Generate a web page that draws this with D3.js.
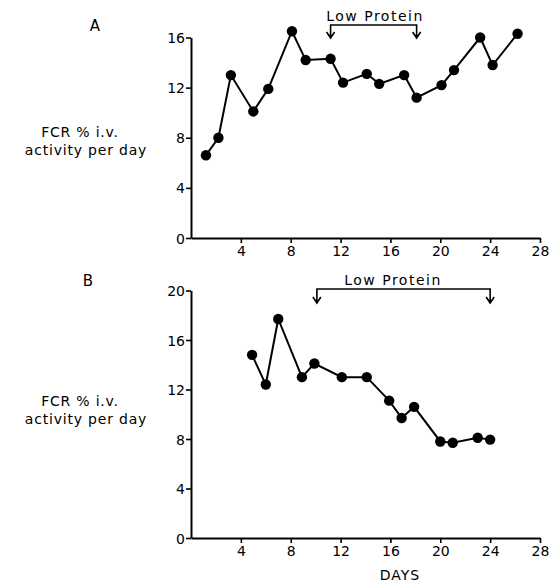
<!DOCTYPE html>
<html>
<head>
<meta charset="utf-8">
<script src="https://cdn.jsdelivr.net/npm/d3@7"></script>
<style>
  body { margin: 0; background: #fff; }
  text { font-family: "DejaVu Sans", sans-serif; fill: #000; }
</style>
</head>
<body>
<div id="chart"></div>
<script>
// panel A : days and FCR values
const daysA = [1.2, 2.2, 3.2, 5.0, 6.2, 8.1, 9.2, 11.2, 12.2, 14.1, 15.1, 17.1, 18.1, 20.1, 21.1, 23.2, 24.2, 26.2];
const fcrA  = [6.6, 8.0, 13.0, 10.1, 11.9, 16.5, 14.2, 14.3, 12.4, 13.1, 12.3, 13.0, 11.2, 12.2, 13.4, 16.0, 13.8, 16.3];
// panel B
const daysB = [4.9, 6.0, 7.0, 8.9, 9.9, 12.1, 14.1, 15.9, 16.9, 17.9, 20.0, 21.0, 23.0, 24.0];
const fcrB  = [14.8, 12.4, 17.7, 13.0, 14.1, 13.0, 13.0, 11.1, 9.7, 10.6, 7.8, 7.7, 8.1, 7.95];

const xTicks = [4, 8, 12, 16, 20, 24, 28];
const yTicksA = [0, 4, 8, 12, 16];
const yTicksB = [0, 4, 8, 12, 16, 20];
const lowProteinA = [11.2, 18.1];
const lowProteinB = [10.1, 24.0];

const width = 557, height = 586;

const svg = d3.select("#chart")
    .append("svg")
    .attr("width", width)
    .attr("height", height);

const x = d3.scaleLinear()
    .domain([0, 28])
    .range([191, 540]);

function panel(opts) {
    const y = d3.scaleLinear()
        .domain([0, opts.ymax])
        .range([opts.bottom, opts.top]);

    const g = svg.append("g");

    // x axis
    const xa = g.append("g")
        .attr("transform", `translate(0,${opts.bottom})`)
        .call(d3.axisBottom(x).tickValues(xTicks).tickSizeInner(5).tickSizeOuter(0).tickPadding(3));
    // y axis
    const ya = g.append("g")
        .attr("transform", `translate(${x(0)},0)`)
        .call(d3.axisLeft(y).tickValues(opts.yticks).tickSizeInner(5).tickSizeOuter(0).tickPadding(1));

    for (const a of [xa, ya]) {
        a.select(".domain").attr("stroke", "#000").attr("stroke-width", 2);
        a.selectAll(".tick line").attr("stroke", "#000").attr("stroke-width", 1.6);
        a.selectAll(".tick text")
            .style("font-size", "14px")
            .style("font-family", "DejaVu Sans, sans-serif")
            .attr("fill", "#000");
    }
    ya.selectAll(".tick text").attr("dy", "0.36em");

    // series
    const pts = opts.days.map((d, i) => [d, opts.vals[i]]);
    g.append("path")
        .datum(pts)
        .attr("fill", "none")
        .attr("stroke", "#000")
        .attr("stroke-width", 2)
        .attr("d", d3.line().x(d => x(d[0])).y(d => y(d[1])));

    g.selectAll("circle")
        .data(pts)
        .join("circle")
        .attr("cx", d => x(d[0]))
        .attr("cy", d => y(d[1]))
        .attr("r", 5.2)
        .attr("fill", "#000");

    // low protein bracket
    const [l, r] = opts.lp;
    const by = opts.bracketY, tip = opts.tipY;
    g.append("path")
        .attr("fill", "none")
        .attr("stroke", "#000")
        .attr("stroke-width", 1.6)
        .attr("d", `M${x(l)},${tip} V${by} H${x(r)} V${tip}`
            + ` M${x(l) - 4},${tip - 6} L${x(l)},${tip} L${x(l) + 4},${tip - 6}`
            + ` M${x(r) - 4},${tip - 6} L${x(r)},${tip} L${x(r) + 4},${tip - 6}`);

    g.append("text")
        .attr("x", opts.lpTextX)
        .attr("y", by - 4)
        .attr("text-anchor", "middle")
        .style("font-size", "14px")
        .style("letter-spacing", "1.5px")
        .text("Low Protein");

    // panel letter
    g.append("text")
        .attr("x", opts.letterX)
        .attr("y", opts.letterY)
        .attr("text-anchor", "middle")
        .style("font-size", "15px")
        .text(opts.letter);

    // y label
    const lab = g.append("text")
        .attr("text-anchor", "middle")
        .style("font-size", "14px")
        .style("letter-spacing", "0.8px");
    lab.append("tspan").attr("x", 80).attr("y", opts.labelY).text("FCR % i.v.");
    lab.append("tspan").attr("x", 86).attr("y", opts.labelY + 18).text("activity per day");
}

panel({
    days: daysA, vals: fcrA, ymax: 16, yticks: yTicksA,
    top: 37.5, bottom: 238, lp: lowProteinA,
    bracketY: 25, tipY: 38, lpTextX: 375,
    letter: "A", letterX: 95, letterY: 31, labelY: 137
});

panel({
    days: daysB, vals: fcrB, ymax: 20, yticks: yTicksB,
    top: 290.5, bottom: 538, lp: lowProteinB,
    bracketY: 289, tipY: 303, lpTextX: 393,
    letter: "B", letterX: 88, letterY: 286, labelY: 406
});

svg.append("text")
    .attr("x", 400)
    .attr("y", 580)
    .attr("text-anchor", "middle")
    .style("font-size", "14px")
    .style("letter-spacing", "1px")
    .text("DAYS");
</script>
</body>
</html>
